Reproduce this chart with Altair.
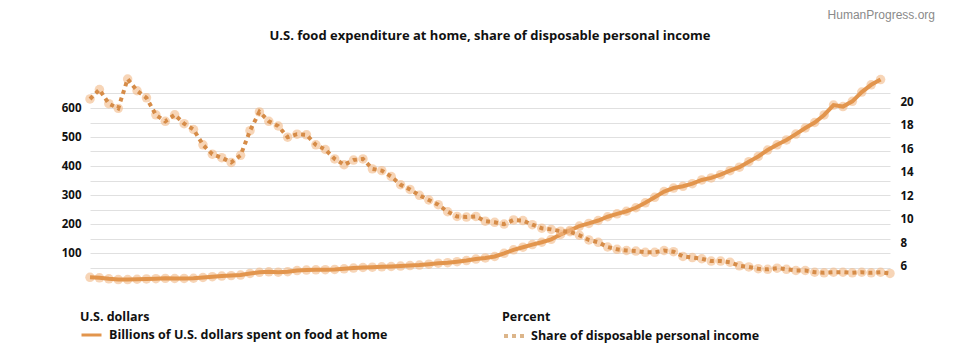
import altair as alt
import pandas as pd

years_dollars = list(range(1929, 2014))
dollars = [16, 14.5, 11, 8.5, 8.3, 9.5, 10.5, 11.5, 12.5, 12, 12.3,
           13, 15.5, 18.5, 20.5, 22, 24, 29.5, 33.5, 35, 34,
           35.5, 39.5, 41, 42, 42.5, 43.5, 45.5, 48, 50, 51,
           52.5, 53.5, 55, 56.5, 58.5, 61.5, 65, 66.5, 70, 74,
           79, 83, 88, 99, 111, 120, 129, 137, 147, 164,
           178, 193, 202, 212, 225, 235, 244, 256, 273, 292,
           312, 324, 330, 339, 352, 359, 370, 384, 396, 415,
           433, 455, 473, 490, 510, 531, 550, 576, 610, 605,
           623, 655, 680, 698]

years_share = list(range(1929, 2015))
share = [20.3, 21.1, 19.9, 19.5, 22.0, 21.0, 20.4, 18.95, 18.4, 18.95, 18.2,
         17.7, 16.4, 15.6, 15.3, 14.9, 15.5, 17.6, 19.2, 18.4, 18.0,
         17.05, 17.3, 17.25, 16.4, 16.0, 15.2, 14.7, 15.1, 15.2, 14.35,
         14.2, 13.7, 13.0, 12.6, 12.1, 11.7, 11.3, 10.7, 10.3, 10.25,
         10.3, 9.9, 9.8, 9.65, 10.0, 9.95, 9.6, 9.3, 9.2, 9.05,
         9.0, 8.7, 8.3, 8.1, 7.7, 7.5, 7.4, 7.35, 7.25, 7.25,
         7.4, 7.3, 6.9, 6.8, 6.7, 6.5, 6.5, 6.4, 6.1, 6.0,
         5.85, 5.8, 5.9, 5.8, 5.7, 5.7, 5.55, 5.5, 5.55, 5.55,
         5.5, 5.55, 5.5, 5.55, 5.45]

dollars_label = "Billions of U.S. dollars spent on food at home"
share_label = "Share of disposable personal income"
title_text = "U.S. food expenditure at home, share of disposable personal income"
watermark = "HumanProgress.org"

left_grid = [50, 100, 150, 200, 250, 300, 350, 400, 450, 500, 550, 600, 650]
right_ticks = [6, 8, 10, 12, 14, 16, 18, 20]
x_ticks = [1930, 1940, 1950, 1960, 1970, 1980, 1990, 2000, 2010]

FONT = "Open Sans"
LINE = "#e2954d"
DOT = "#d68c48"
CIRCLE = "#f1b987"


def legend(title, x, size, width, offset):
    return alt.Legend(title=title, orient="none", legendX=x, legendY=232,
                      symbolType="stroke", symbolStrokeWidth=width, symbolSize=size,
                      symbolStrokeColor="#dcb58a", labelOffset=offset, labelLimit=400,
                      titleFont=FONT, titleFontSize=12.5, titleFontWeight="bold",
                      titleColor="#111111", labelFont=FONT, labelFontSize=12.5,
                      labelFontWeight="bold", labelColor="#111111", padding=0,
                      titlePadding=0)


d1 = pd.DataFrame({"year": years_dollars, "dollars": dollars, "series": dollars_label})
d2 = pd.DataFrame({"year": years_share, "share": share, "series2": share_label})

xscale = alt.Scale(domain=[1929, 2014], nice=False)
xaxis = alt.Axis(values=x_ticks, format="d", grid=False, domain=False, ticks=True,
                 tickSize=4, tickColor="#cccccc", labelPadding=5,
                 labelFont=FONT, labelFontWeight="bold", labelFontSize=11.5,
                 labelColor="#111111", title=None)

base1 = alt.Chart(d1).encode(
    x=alt.X("year:Q", scale=xscale, axis=xaxis),
    y=alt.Y("dollars:Q", scale=alt.Scale(domain=[0, 700], nice=False),
            axis=alt.Axis(values=left_grid, orient="left", domain=False, ticks=False,
                          grid=True, gridColor="#e0e0e0", gridWidth=1,
                          labelExpr="(datum.value % 100 == 0 && datum.value < 650) ? datum.label : ''",
                          labelPadding=9, labelFont=FONT, labelFontWeight="bold",
                          labelFontSize=11.5, labelColor="#111111", title=None)),
)
pts1 = base1.mark_circle(size=90, color=CIRCLE, opacity=0.6)
line1 = base1.mark_line(strokeWidth=4).encode(
    color=alt.Color("series:N", scale=alt.Scale(domain=[dollars_label], range=[LINE]),
                    legend=legend("U.S. dollars", -10, 400, 3, 6))
)

base2 = alt.Chart(d2).encode(
    x=alt.X("year:Q", scale=xscale, axis=None),
    y=alt.Y("share:Q", scale=alt.Scale(domain=[4.72, 22], nice=False),
            axis=alt.Axis(values=right_ticks, orient="right", domain=False, ticks=False,
                          grid=False, labelPadding=10, labelFont=FONT, labelFontWeight="bold",
                          labelFontSize=11.5, labelColor="#111111", title=None)),
)
pts2 = base2.mark_circle(size=90, color=CIRCLE, opacity=0.6)
line2 = base2.mark_line(strokeWidth=4, color=DOT).encode(
    strokeDash=alt.StrokeDash("series2:N", scale=alt.Scale(domain=[share_label], range=[[4, 4]]),
                              legend=legend("Percent", 412, 441, 4, 4))
)

wm = alt.Chart(pd.DataFrame({"t": [watermark]})).mark_text(
    font="Liberation Sans", fontSize=12, color="#8a8a8a", align="right", baseline="middle"
).encode(text="t:N", x=alt.value(845), y=alt.value(-64))

chart = alt.layer(
    alt.layer(pts1, line1),
    alt.layer(pts2, line2),
    wm,
).resolve_scale(y="independent").properties(
    width=800, height=203,
    title=alt.TitleParams(title_text, font=FONT, fontSize=13, fontWeight="bold", color="#111111",
                          anchor="middle", frame="group", baseline="alphabetic", offset=-44),
    padding={"left": 82, "top": 71, "right": 60, "bottom": 76},
    autosize=alt.AutoSizeParams(type="none"),
).configure_view(stroke=None)

chart.save("out.html", embed_options={"renderer": "svg", "actions": False})
